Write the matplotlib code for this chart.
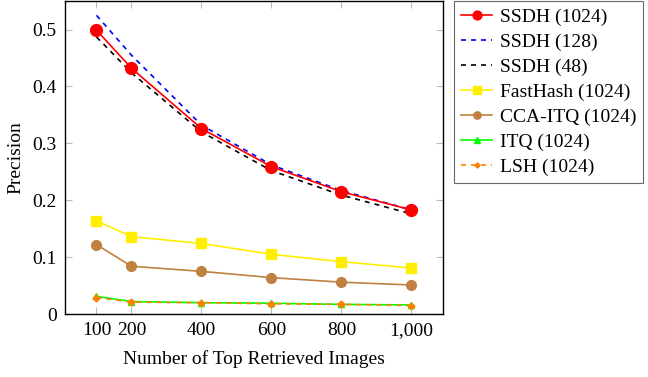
import matplotlib.pyplot as plt

# valori
top_k = [100, 200, 400, 600, 800, 1000]
ssdh_1024 = [0.499, 0.432, 0.326, 0.259, 0.215, 0.183]
ssdh_128 = [0.525, 0.455, 0.332, 0.262, 0.217, 0.183]
ssdh_48 = [0.487, 0.424, 0.320, 0.252, 0.209, 0.176]
fasthash = [0.164, 0.136, 0.124, 0.105, 0.092, 0.081]
cca_itq = [0.122, 0.084, 0.075, 0.064, 0.056, 0.051]
itq = [0.031, 0.022, 0.020, 0.019, 0.017, 0.016]
lsh = [0.029, 0.021, 0.020, 0.018, 0.017, 0.015]

plt.rcParams['font.family'] = ['Liberation Serif', 'DejaVu Serif']

fig = plt.figure(figsize=(6.48, 3.77), dpi=100)
ax = fig.add_axes([0.1003, 0.167, 0.5833, 0.830])

ax.plot(top_k, ssdh_1024, color='red', marker='o', markersize=8.5, linewidth=1.2, label='SSDH (1024)', zorder=5)
ax.plot(top_k, ssdh_128, color='blue', linestyle=(0, (3, 3)), linewidth=1.2, label='SSDH (128)', zorder=4)
ax.plot(top_k, ssdh_48, color='black', linestyle=(0, (3, 3)), linewidth=1.2, label='SSDH (48)', zorder=4)
ax.plot(top_k, fasthash, color='#ffee00', marker='s', markersize=7, linewidth=1.2, label='FastHash (1024)')
ax.plot(top_k, cca_itq, color='#bf8040', marker='o', markersize=7, linewidth=1.2, label='CCA-ITQ (1024)')
ax.plot(top_k, itq, color='#00ff00', marker='^', markersize=5, linewidth=1.2, label='ITQ (1024)')
ax.plot(top_k, lsh, color='#ff8000', marker='D', markersize=3.5, linestyle=(0, (3, 3)), linewidth=1.2, label='LSH (1024)')

ax.set_xlim(10, 1090)
ax.set_ylim(0, 0.55)
ax.set_xticks(top_k)
ax.set_xticklabels(['100', '200', '400', '600', '800', '1,000'])
ax.set_yticks([0, 0.1, 0.2, 0.3, 0.4, 0.5])
ax.set_yticklabels(['0', '0.1', '0.2', '0.3', '0.4', '0.5'])
ax.tick_params(direction='in', top=True, right=True, length=5, color='#bbbbbb', labelsize=14, pad=6)
ax.set_xlabel('Number of Top Retrieved Images', fontsize=14, labelpad=8)
ax.set_ylabel('Precision', fontsize=14, labelpad=6)
for s in ax.spines.values():
    s.set_linewidth(1.0)

leg = ax.legend(loc='upper left', bbox_to_anchor=(1.03, 1.0), fontsize=14, frameon=True,
                fancybox=False, edgecolor='#444444', handlelength=1.6, handletextpad=0.4,
                labelspacing=0.38, borderaxespad=0, markerscale=0.75, borderpad=0.35)
leg.get_frame().set_linewidth(0.8)

fig.savefig('out.png', dpi=100)
